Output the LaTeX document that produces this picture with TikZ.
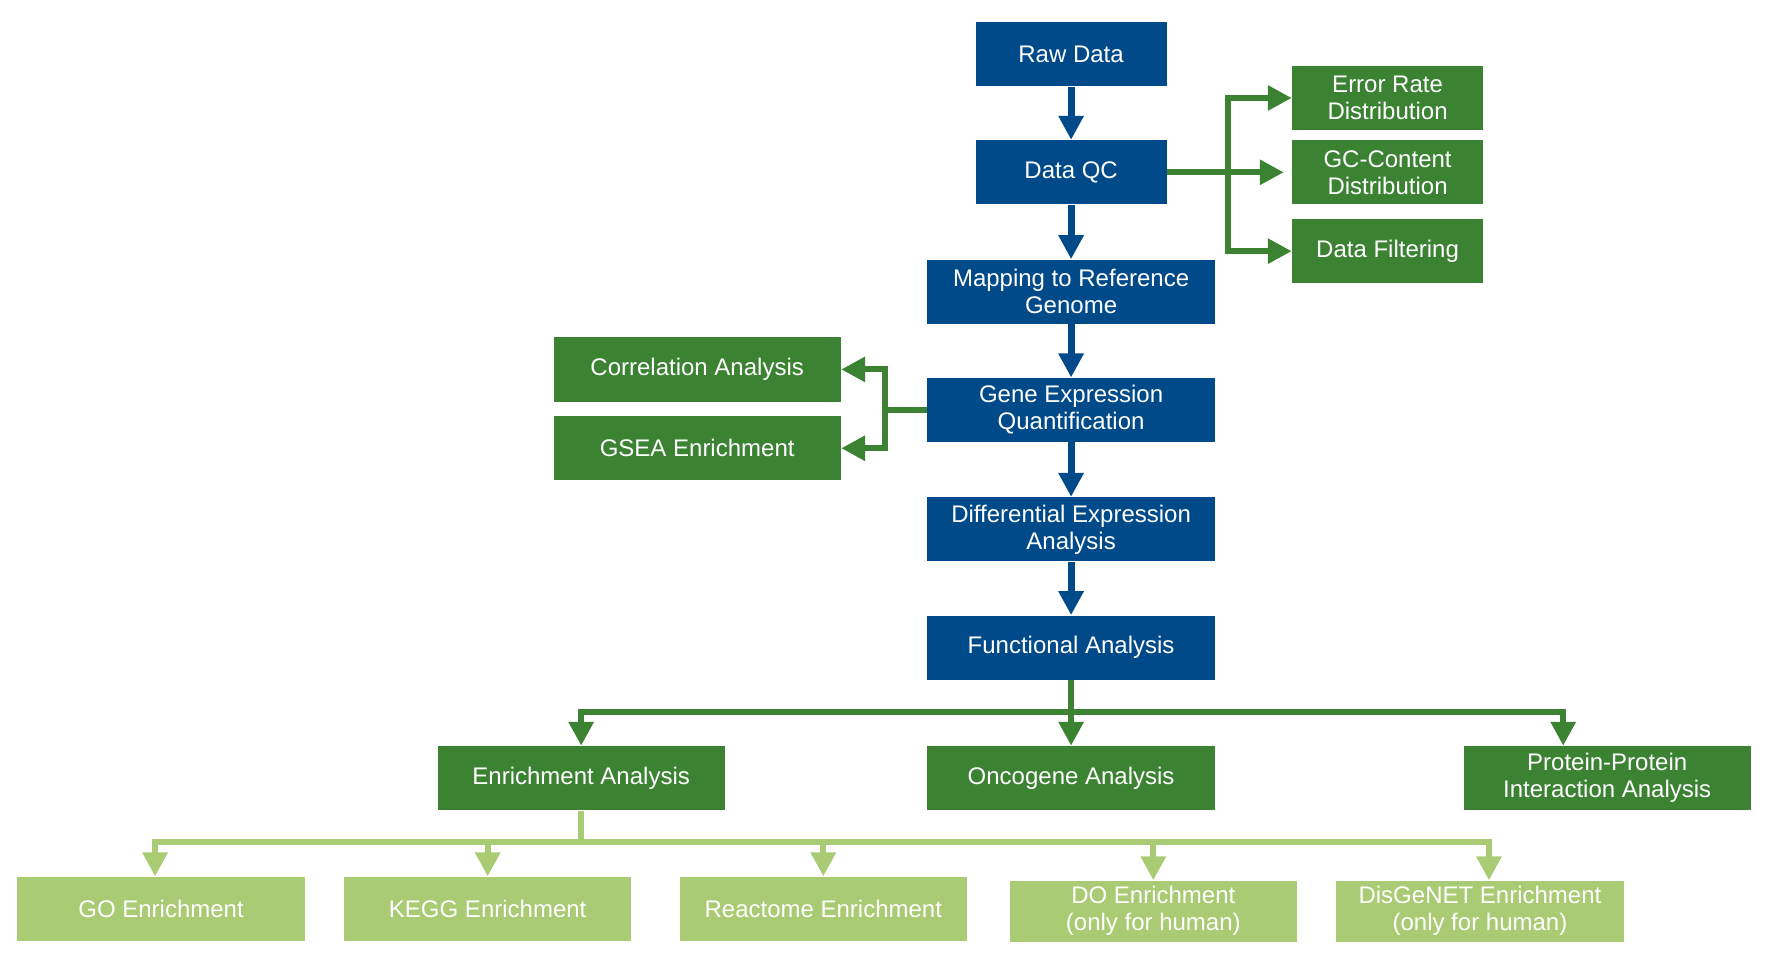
\documentclass[tikz,border=0pt]{standalone}
\usepackage{fontspec}
\setmainfont{Liberation Sans}
\usetikzlibrary{arrows.meta}

\definecolor{pipeblue}{RGB}{0,74,137}
\definecolor{pipegreen}{RGB}{60,130,51}
\definecolor{palegreen}{RGB}{169,203,116}

\tikzset{
    stage/.style={fill=#1, text=white, align=center, inner sep=0pt,
        minimum width=143.6pt, minimum height=32.1pt,
        font=\fontsize{12}{13.5}\selectfont},
    narrowstage/.style={stage=#1, minimum width=95.4pt},
    wire/.style={draw=#1, line width=3pt},
    flow/.style={wire=#1, -{Triangle[width=12pt,length=12pt]}},
}

\begin{document}
\begin{tikzpicture}[x=0.5631pt, y=-0.5631pt]
    \useasboundingbox (0,0) rectangle (1568,851); % whole page

    % main pipeline
    \node[narrowstage=pipeblue] (raw) at (951,48) {Raw Data};
    \node[narrowstage=pipeblue] (qc) at (951,153) {Data QC};
    \node[stage=pipeblue] (map) at (951,259) {Mapping to Reference\\Genome};
    \node[stage=pipeblue] (quant) at (951,364) {Gene Expression\\Quantification};
    \node[stage=pipeblue] (deg) at (951,470) {Differential Expression\\Analysis};
    \node[stage=pipeblue] (func) at (951,575) {Functional Analysis};

    \draw[flow=pipeblue, line width=3.6pt] (raw) -- (qc);
    \draw[flow=pipeblue, line width=3.6pt] (qc) -- (map);
    \draw[flow=pipeblue, line width=3.6pt] (map) -- (quant);
    \draw[flow=pipeblue, line width=3.6pt] (quant) -- (deg);
    \draw[flow=pipeblue, line width=3.6pt] (deg) -- (func);

    % QC outputs
    \node[narrowstage=pipegreen] (err) at (1232,87) {Error Rate\\Distribution};
    \node[narrowstage=pipegreen] (gc) at (1232,153) {GC-Content\\Distribution};
    \node[narrowstage=pipegreen] (filt) at (1232,223) {Data Filtering};

    \coordinate (qcfork) at (1090,153);
    \draw[flow=pipegreen, shorten >=4pt] (qc) -- (gc);
    \draw[flow=pipegreen] (qcfork) |- (err);
    \draw[flow=pipegreen] (qcfork) |- (filt);

    % expression outputs
    \node[stage=pipegreen] (corr) at (619,328) {Correlation Analysis};
    \node[stage=pipegreen] (gsea) at (619,398) {GSEA Enrichment};

    \coordinate (quantfork) at (786,364);
    \draw[wire=pipegreen] (quant) -- (quantfork);
    \draw[flow=pipegreen] (quantfork) |- (corr);
    \draw[flow=pipegreen] (quantfork) |- (gsea);

    % functional analysis
    \node[stage=pipegreen] (enr) at (516,691) {Enrichment Analysis};
    \node[stage=pipegreen] (onco) at (951,691) {Oncogene Analysis};
    \node[stage=pipegreen] (ppi) at (1427,691) {Protein-Protein\\Interaction Analysis};

    \coordinate (funcfork) at (951,632);
    \draw[wire=pipegreen] (func) -- (funcfork);
    \draw[flow=pipegreen] (funcfork) -- (onco);
    \draw[flow=pipegreen] (funcfork) -| (enr);
    \draw[flow=pipegreen] (funcfork) -| ([xshift=-22pt]ppi.north);

    % enrichment databases
    \node[stage=palegreen] (go) at (143,807) {GO Enrichment};
    \node[stage=palegreen] (kegg) at (433,807) {KEGG Enrichment};
    \node[stage=palegreen] (reac) at (731,807) {Reactome Enrichment};
    \node[stage=palegreen, minimum height=30.4pt] (do) at (1024,809) {DO Enrichment\\(only for human)};
    \node[stage=palegreen, minimum height=30.4pt] (dis) at (1314,809) {DisGeNET Enrichment\\(only for human)};

    \coordinate (enrfork) at (516,748);
    \draw[wire=palegreen] (enr) -- (enrfork);
    \draw[flow=palegreen] (enrfork) -| ([xshift=-3pt]go.north);
    \foreach \db in {kegg,reac,do}
        \draw[flow=palegreen] (enrfork) -| (\db);
    \draw[flow=palegreen] (enrfork) -| ([xshift=4.5pt]dis.north);
\end{tikzpicture}
\end{document}
